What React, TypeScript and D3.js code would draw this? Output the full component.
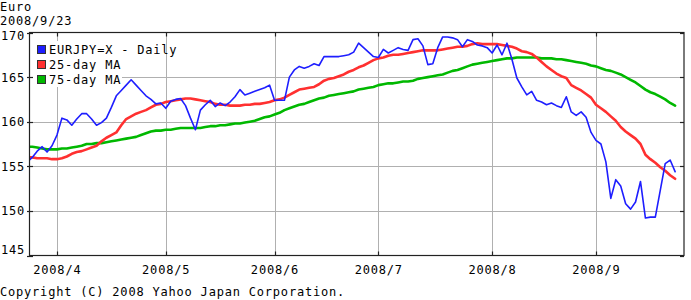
import React from "react";
import * as d3 from "d3";

// ---- data (trading days, 2008-03-24 .. 2008-09-23) ----
const eurjpy: number[] = [
  155.5, 156.0, 156.7, 157.2, 156.6, 157.3, 158.5, 160.4, 160.2, 159.6,
  160.3, 160.9, 160.9, 160.3, 159.6, 159.9, 160.4, 161.6, 162.9, 163.5,
  164.1, 164.7, 164.1, 163.5, 162.9, 162.5, 162.0, 162.1, 161.5, 162.3,
  162.5, 162.6, 161.8, 160.4, 159.1, 161.3, 161.9, 162.4, 161.7, 162.1,
  161.8, 162.2, 162.8, 163.6, 163.0, 163.2, 163.4, 163.6, 163.8, 164.1,
  162.4, 162.4, 162.4, 165.0, 165.8, 166.2, 166.0, 166.2, 166.5, 166.3,
  167.3, 167.3, 167.3, 167.3, 167.4, 167.5, 167.8, 168.8, 168.3, 167.8,
  167.3, 167.2, 168.1, 167.7, 168.0, 168.3, 168.1, 168.0, 169.2, 169.3,
  168.5, 166.4, 166.5, 168.3, 169.5, 169.5, 169.4, 169.2, 168.4, 169.2,
  169.0, 168.6, 168.5, 168.3, 167.7, 168.6, 167.5, 168.8, 167.0, 164.9,
  163.9, 163.0, 163.4, 162.4, 162.2, 161.9, 162.1, 161.8, 161.6, 162.8,
  161.1, 160.7, 161.1, 160.5, 158.8, 157.9, 157.5, 155.5, 151.4, 153.5,
  152.8, 150.8, 150.2, 151.0, 153.3, 149.2, 149.3, 149.3, 152.3, 155.3,
  155.7, 154.4,
];
const ma25: number[] = [
  156.0, 156.0, 155.9, 155.9, 155.9, 155.8, 155.8, 155.9, 156.1, 156.4,
  156.6, 156.7, 156.9, 157.1, 157.3, 157.8, 158.2, 158.5, 158.8, 159.6,
  160.3, 160.6, 160.9, 161.1, 161.3, 161.6, 161.9, 162.0, 162.2, 162.3,
  162.4, 162.5, 162.6, 162.6, 162.5, 162.4, 162.3, 162.2, 162.0, 161.9,
  161.9, 161.8, 161.8, 161.8, 161.9, 161.9, 162.0, 162.0, 162.1, 162.2,
  162.4, 162.5, 162.7, 163.0, 163.3, 163.6, 163.7, 163.8, 163.9, 164.2,
  164.6, 164.8, 164.9, 165.1, 165.3, 165.6, 165.8, 166.1, 166.3, 166.6,
  166.9, 167.1, 167.2, 167.4, 167.5, 167.5, 167.6, 167.7, 167.8, 167.9,
  168.0, 168.0, 168.0, 168.0, 168.1, 168.2, 168.3, 168.4, 168.4, 168.5,
  168.7, 168.8, 168.7, 168.7, 168.7, 168.7, 168.6, 168.5, 168.4, 168.2,
  167.9, 167.8, 167.6, 167.2, 166.7, 166.2, 165.8, 165.4, 165.1, 164.9,
  164.1, 163.8, 163.5, 163.1, 162.7, 161.9, 161.5, 161.1, 160.6, 160.1,
  159.4, 158.9, 158.5, 158.1, 157.5, 156.3, 155.8, 155.4, 154.9, 154.5,
  154.0, 153.6,
];
const ma75: number[] = [
  157.2, 157.2, 157.1, 157.0, 156.9, 156.9, 156.9, 157.0, 157.0, 157.1,
  157.2, 157.3, 157.5, 157.5, 157.6, 157.6, 157.7, 157.8, 157.9, 158.0,
  158.1, 158.2, 158.3, 158.5, 158.7, 158.9, 159.0, 159.0, 159.1, 159.1,
  159.2, 159.3, 159.3, 159.3, 159.3, 159.3, 159.4, 159.5, 159.5, 159.6,
  159.6, 159.7, 159.8, 159.8, 159.9, 160.0, 160.1, 160.3, 160.5, 160.6,
  160.8, 161.0, 161.3, 161.5, 161.7, 161.9, 162.0, 162.2, 162.4, 162.6,
  162.7, 162.9, 163.0, 163.1, 163.2, 163.3, 163.4, 163.6, 163.7, 163.8,
  163.9, 164.1, 164.2, 164.3, 164.3, 164.4, 164.5, 164.5, 164.6, 164.8,
  164.9, 165.0, 165.1, 165.2, 165.3, 165.5, 165.7, 165.8, 166.0, 166.2,
  166.4, 166.5, 166.6, 166.7, 166.8, 166.9, 167.0, 167.1, 167.1, 167.2,
  167.2, 167.2, 167.2, 167.2, 167.1, 167.1, 167.1, 167.0, 167.0, 166.9,
  166.8, 166.7, 166.6, 166.5, 166.3, 166.2, 166.0, 165.8, 165.7, 165.5,
  165.3, 165.0, 164.7, 164.4, 164.0, 163.6, 163.3, 163.1, 162.8, 162.5,
  162.1, 161.8,
];
const yTicks: number[] = [145, 150, 155, 160, 165, 170];
const monthLabels: string[] = ["2008/4", "2008/5", "2008/6", "2008/7", "2008/8", "2008/9"];
const seriesNames: string[] = ["EURJPY=X - Daily", "25-day MA", "75-day MA"];
const seriesColors: string[] = ["#1e1eff", "#ff3030", "#00b800"];

const W = 691, H = 300;
const L = 29, R = 684, T = 32.5, B = 255.5;
const FONT = "'DejaVu Sans Mono', monospace";

export default function App() {
  const dates = d3
    .timeDay.range(new Date(2008, 2, 24), new Date(2008, 8, 24))
    .filter((d) => d.getDay() !== 0 && d.getDay() !== 6);
  const n = dates.length;
  const x = d3.scaleLinear().domain([0, n - 1]).range([27.3, 675.1]);
  const y = d3.scaleLinear().domain([145, 170]).range([B, T]);

  // first trading day of each month
  const monthIdx: number[] = [];
  dates.forEach((d, i) => {
    if (i > 0 && d.getMonth() !== dates[i - 1].getMonth()) monthIdx.push(i);
  });

  const line = d3
    .line<number>()
    .x((_, i) => x(i))
    .y((v) => y(v));

  const series = [
    { vals: ma75, color: seriesColors[2], w: 2.6 },
    { vals: ma25, color: seriesColors[1], w: 2.6 },
    { vals: eurjpy, color: seriesColors[0], w: 1.6 },
  ];

  const txt = { fontFamily: FONT, fontSize: 12, letterSpacing: 0.8, fill: "#000" } as const;

  return (
    <svg
      width={W}
      height={H}
      style={{ position: "absolute", left: 0, top: 0, background: "#fff" }}
    >
      <rect x={0} y={0} width={W} height={H} fill="#fff" />
      <defs>
        <clipPath id="plot">
          <rect x={L} y={T} width={R - L} height={B - T} />
        </clipPath>
      </defs>

      <text x={0} y={10.5} {...txt}>Euro</text>
      <text x={0} y={24.5} {...txt}>2008/9/23</text>

      {/* gridlines */}
      {yTicks.slice(1, -1).map((v) => (
        <line key={"gy" + v} x1={L} x2={R} y1={Math.round(y(v)) + 0.5} y2={Math.round(y(v)) + 0.5}
          stroke="#b0b0b0" strokeWidth={1} />
      ))}
      {monthIdx.map((i) => (
        <line key={"gx" + i} x1={Math.round(x(i)) + 0.5} x2={Math.round(x(i)) + 0.5} y1={T} y2={B}
          stroke="#b0b0b0" strokeWidth={1} />
      ))}

      {/* series */}
      <g clipPath="url(#plot)">
        {series.map((s, k) => (
          <path key={k} d={line(s.vals) || ""} fill="none" stroke={s.color}
            strokeWidth={s.w} strokeLinejoin="round" strokeLinecap="round" />
        ))}
      </g>

      {/* frame */}
      <rect x={L + 0.5} y={T} width={R - L - 0.5} height={B - T} fill="none" stroke="#222" strokeWidth={1.2} />

      {/* ticks */}
      {monthIdx.map((i) => (
        <g key={"tx" + i}>
          <line x1={Math.round(x(i)) + 0.5} x2={Math.round(x(i)) + 0.5} y1={B} y2={B - 4} stroke="#222" strokeWidth={1.2} />
          <line x1={Math.round(x(i)) + 0.5} x2={Math.round(x(i)) + 0.5} y1={T} y2={T + 4} stroke="#222" strokeWidth={1.2} />
        </g>
      ))}
      {yTicks.map((v) => (
        <g key={"ty" + v}>
          <line x1={L - 2} x2={L + 4} y1={Math.round(y(v)) + 0.5} y2={Math.round(y(v)) + 0.5} stroke="#222" strokeWidth={1.2} />
          <line x1={R - 4} x2={R} y1={Math.round(y(v)) + 0.5} y2={Math.round(y(v)) + 0.5} stroke="#222" strokeWidth={1.2} />
        </g>
      ))}

      {/* y labels */}
      {yTicks.map((v) => (
        <text key={"ly" + v} x={1} y={Math.min(253.5, Math.max(39.5, y(v) + 4.5))} {...txt}>
          {String(v)}
        </text>
      ))}

      {/* x labels */}
      {monthIdx.map((i, k) => (
        <text key={"lx" + i} x={x(i) + 0.4} y={273.5} textAnchor="middle" {...txt}>
          {monthLabels[k]}
        </text>
      ))}

      {/* legend */}
      <rect x={33} y={41} width={89} height={46} fill="#fff" />
      {seriesNames.map((name, k) => {
        const cy = [49.5, 64.5, 79.5][k];
        return (
          <g key={"lg" + k}>
            <rect x={37.5} y={cy - 4} width={8} height={8} fill={seriesColors[k]} stroke="#333" strokeWidth={1} />
            <text x={49} y={cy + 4.5} {...txt}>{name}</text>
          </g>
        );
      })}

      <text x={0} y={296} {...txt}>Copyright (C) 2008 Yahoo Japan Corporation.</text>
    </svg>
  );
}
